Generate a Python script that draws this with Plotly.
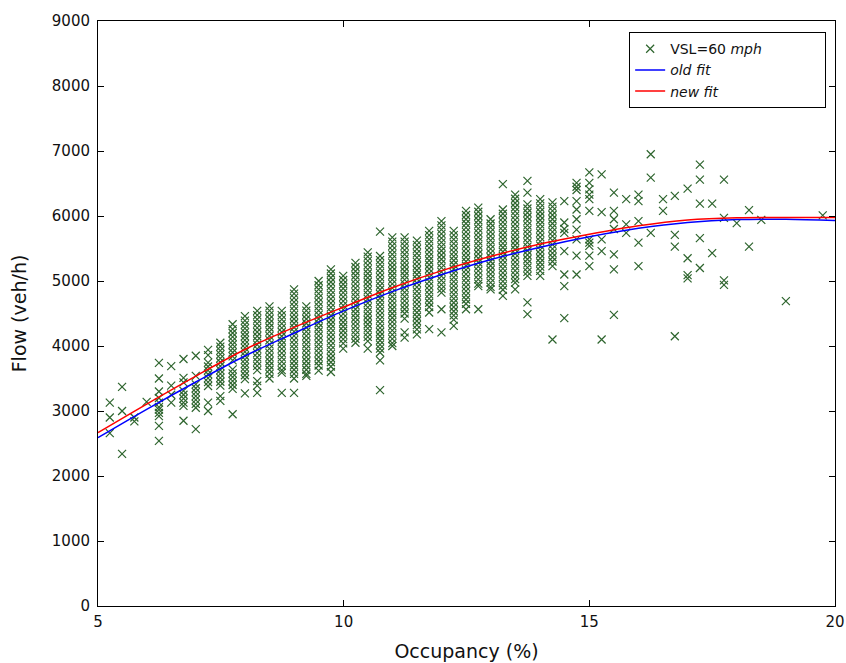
import plotly.graph_objects as go

# Occupancy columns (%) and the flows (veh/h) read in each column
col_occ = [5.24, 5.49, 5.74, 5.99, 6.24, 6.49, 6.74, 6.99, 7.24, 7.49, 7.74, 7.99,
           8.24, 8.49, 8.74, 8.99, 9.24, 9.49, 9.74, 9.99, 10.24, 10.49, 10.74, 10.99,
           11.24, 11.49, 11.74, 11.99, 12.24, 12.49, 12.74, 12.99, 13.24, 13.49, 13.74,
           14.0, 14.25, 14.49, 14.74, 15.0, 15.25, 15.5, 15.75, 16.0, 16.25, 16.5,
           16.74, 17.0, 17.25, 17.5, 17.74, 18.0, 18.25, 18.5, 19.0, 19.75]

col_flows = [
    [3130, 2900, 2660],
    [3370, 3000, 2340],
    [2900, 2840],
    [3140],
    [3740, 3500, 3300, 3200, 3130, 3060, 3020, 2970, 2920, 2770, 2540],
    [3690, 3390, 3250, 3130],
    [3800, 3510, 3440, 3310, 3250, 3190, 3130, 3080, 2850],
    [3850, 3540, 3410, 3350, 3290, 3230, 3170, 3110, 3050, 2720],
    [3940, 3860, 3745, 3685, 3625, 3565, 3505, 3445, 3385, 3130, 3000],
    [4050, 3990, 3930, 3870, 3810, 3750, 3690, 3630, 3570, 3510, 3450, 3390, 3230, 3155],
    [4335, 4260, 4200, 4140, 4080, 4020, 3960, 3900, 3840, 3780, 3640, 3580, 3520, 3460,
     3400, 3340, 2950],
    [4460, 4390, 4330, 4270, 4210, 4150, 4090, 4030, 3970, 3910, 3850, 3790, 3730, 3670,
     3610, 3550, 3490, 3270],
    [4540, 4475, 4410, 4345, 4280, 4215, 4150, 4085, 4020, 3955, 3890, 3825, 3760, 3695,
     3630, 3460, 3390, 3280],
    [4610, 4545, 4480, 4415, 4350, 4285, 4220, 4155, 4090, 4025, 3960, 3895, 3830, 3765,
     3700, 3635, 3570, 3500],
    [4540, 4475, 4410, 4345, 4280, 4215, 4150, 4085, 4020, 3955, 3890, 3825, 3760, 3695,
     3630, 3590, 3280],
    [4870, 4805, 4740, 4675, 4610, 4545, 4480, 4415, 4350, 4285, 4220, 4155, 4090, 4025,
     3960, 3895, 3830, 3765, 3700, 3635, 3570, 3500, 3280],
    [4610, 4545, 4480, 4415, 4350, 4285, 4220, 4155, 4090, 4025, 3960, 3895, 3830, 3765,
     3700, 3635, 3570, 3540],
    [5000, 4935, 4870, 4805, 4740, 4675, 4610, 4545, 4480, 4415, 4350, 4285, 4220, 4155,
     4090, 4025, 3960, 3895, 3830, 3765, 3700, 3620],
    [5180, 5115, 5050, 4985, 4920, 4855, 4790, 4725, 4660, 4595, 4530, 4465, 4400, 4335,
     4270, 4205, 4140, 4075, 4010, 3945, 3880, 3815, 3750, 3685, 3600],
    [5080, 5015, 4950, 4885, 4820, 4755, 4690, 4625, 4560, 4495, 4430, 4365, 4300, 4235,
     4170, 4105, 4040, 3960],
    [5280, 5215, 5150, 5085, 5020, 4955, 4890, 4825, 4760, 4695, 4630, 4565, 4500, 4435,
     4370, 4305, 4240, 4175, 4110, 4050],
    [5440, 5375, 5310, 5245, 5180, 5115, 5050, 4985, 4920, 4855, 4790, 4725, 4660, 4595,
     4530, 4465, 4400, 4335, 4270, 4205, 4140, 4075, 3960],
    [5760, 5385, 5320, 5255, 5190, 5125, 5060, 4995, 4930, 4865, 4800, 4735, 4670, 4605,
     4540, 4475, 4410, 4345, 4280, 4215, 4150, 4085, 4020, 3960, 3900, 3780, 3320],
    [5670, 5605, 5540, 5475, 5410, 5345, 5280, 5215, 5150, 5085, 5020, 4955, 4890, 4825,
     4760, 4695, 4630, 4565, 4500, 4435, 4370, 4305, 4240, 4175, 4110, 4045, 4000],
    [5670, 5605, 5540, 5475, 5410, 5345, 5280, 5215, 5150, 5085, 5020, 4955, 4890, 4825,
     4760, 4695, 4630, 4565, 4500, 4420, 4210, 4130],
    [5620, 5555, 5490, 5425, 5360, 5295, 5230, 5165, 5100, 5035, 4970, 4905, 4840, 4775,
     4710, 4645, 4580, 4515, 4450, 4385, 4320, 4255, 4180],
    [5770, 5705, 5640, 5575, 5510, 5445, 5380, 5315, 5250, 5185, 5120, 5055, 4990, 4925,
     4860, 4795, 4730, 4665, 4600, 4515, 4260],
    [5920, 5855, 5790, 5725, 5660, 5595, 5530, 5465, 5400, 5335, 5270, 5205, 5140, 5075,
     5010, 4945, 4880, 4820, 4565, 4210],
    [5770, 5705, 5640, 5575, 5510, 5445, 5380, 5315, 5250, 5185, 5120, 5055, 4990, 4925,
     4860, 4795, 4730, 4665, 4600, 4535, 4470, 4405, 4310],
    [6080, 6015, 5950, 5885, 5820, 5755, 5690, 5625, 5560, 5495, 5430, 5365, 5300, 5235,
     5170, 5105, 5040, 4975, 4910, 4845, 4780, 4715, 4650, 4565],
    [6130, 6065, 6000, 5935, 5870, 5805, 5740, 5675, 5610, 5545, 5480, 5415, 5350, 5285,
     5220, 5155, 5090, 5025, 4960, 4920, 4565],
    [5950, 5885, 5820, 5755, 5690, 5625, 5560, 5495, 5430, 5365, 5300, 5235, 5170, 5105,
     5040, 4975, 4910, 4870],
    [6490, 6100, 6035, 5970, 5905, 5840, 5775, 5710, 5645, 5580, 5515, 5450, 5385, 5320,
     5255, 5190, 5125, 5060, 4995, 4930, 4865, 4770],
    [6330, 6265, 6200, 6135, 6070, 6005, 5940, 5875, 5810, 5745, 5680, 5615, 5550, 5485,
     5420, 5355, 5290, 5225, 5160, 5095, 5030, 4975, 4870],
    [6540, 6360, 6180, 6115, 6050, 5985, 5920, 5855, 5790, 5725, 5660, 5595, 5530, 5465,
     5400, 5335, 5270, 5205, 5140, 5080, 4670, 4490],
    [6260, 6195, 6130, 6065, 6000, 5935, 5870, 5805, 5740, 5675, 5610, 5545, 5480, 5415,
     5350, 5285, 5220, 5155, 5080],
    [6210, 6145, 6080, 6015, 5950, 5885, 5820, 5755, 5690, 5625, 5560, 5495, 5430, 5365,
     5300, 5230, 4100],
    [6230, 5900, 5800, 5740, 5460, 5100, 4920, 4430],
    [6510, 6450, 6400, 6230, 6100, 5950, 5790, 5640, 5390, 5100],
    [6670, 6510, 6410, 6330, 6260, 6080, 5640, 5590, 5540, 5390, 5230],
    [6640, 6060, 5640, 5460, 4100],
    [6360, 6080, 5950, 5800, 5410, 5180, 4480],
    [6260, 5870, 5740],
    [6330, 6230, 5920, 5590, 5230],
    [6950, 6590, 5740],
    [6260, 6080],
    [6310, 5710, 5530, 4150],
    [6420, 5350, 5090, 5040],
    [6790, 6560, 6190, 5660, 5200],
    [6190, 5430],
    [6560, 5970, 5010, 4940],
    [5890],
    [6090, 5530],
    [5940],
    [4690],
    [6010],
]

# Fitted curves
fit_occ = [5, 6, 7, 8, 9, 10, 11, 12, 13, 14, 15, 16, 17, 18, 19, 20]
old_fit = [2590, 3030, 3450, 3850, 4200, 4540, 4840, 5100, 5330, 5520, 5680, 5810,
           5900, 5945, 5950, 5930]
new_fit = [2667, 3110, 3540, 3950, 4290, 4600, 4900, 5160, 5380, 5570, 5720, 5850,
           5940, 5975, 5978, 5978]

x_ticks = [5, 10, 15, 20]
y_ticks = [0, 1000, 2000, 3000, 4000, 5000, 6000, 7000, 8000, 9000]

scatter_x = []
scatter_y = []
for occ, flows in zip(col_occ, col_flows):
    for f in flows:
        scatter_x.append(occ)
        scatter_y.append(f)

FONT = "DejaVu Sans"
PAD = "&nbsp;" * 13

fig = go.Figure()
fig.add_trace(go.Scatter(
    x=scatter_x, y=scatter_y, mode="markers", name="VSL=60 <i>mph</i>" + PAD,
    marker=dict(symbol="x-thin", size=8, color="rgb(45,100,45)",
                line=dict(width=1.2, color="rgb(45,100,45)")),
))
fig.add_trace(go.Scatter(
    x=fit_occ, y=old_fit, mode="lines", name="<i>old fit</i>",
    line=dict(color="#0000ff", width=1.5, shape="spline"),
))
fig.add_trace(go.Scatter(
    x=fit_occ, y=new_fit, mode="lines", name="<i>new fit</i>",
    line=dict(color="#ff0000", width=1.5, shape="spline"),
))

axis_common = dict(
    showline=True, linecolor="black", linewidth=1, mirror="ticks",
    ticks="inside", ticklen=6, tickcolor="black", showgrid=False, zeroline=False,
    automargin=False,
    tickfont=dict(family=FONT, size=15, color="#111"),
)

fig.update_layout(
    width=846, height=663,
    margin=dict(l=98, r=11, t=21, b=57),
    paper_bgcolor="white", plot_bgcolor="white",
    showlegend=True,
    legend=dict(
        x=0.988, y=0.981, xanchor="right", yanchor="top",
        bgcolor="white", bordercolor="black", borderwidth=1,
        font=dict(family=FONT, size=14, color="#111"),
        tracegroupgap=0, itemwidth=30,
    ),
    xaxis=dict(range=[5, 20], tickvals=x_ticks, ticklabelstandoff=2,
               title=dict(text="Occupancy (%)", standoff=14,
                          font=dict(family=FONT, size=19, color="#111")),
               **axis_common),
    yaxis=dict(range=[0, 9000], tickvals=y_ticks, ticklabelstandoff=4,
               title=dict(text="Flow (veh/h)", standoff=20,
                          font=dict(family=FONT, size=19, color="#111")),
               **axis_common),
)

fig.write_html(
    "out.html",
    config={"displayModeBar": False},
    post_script="document.body.style.margin='0';document.body.style.overflow='hidden';",
)
